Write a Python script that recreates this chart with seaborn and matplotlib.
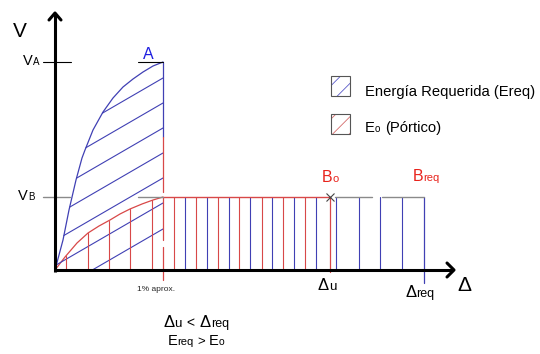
import numpy as np
import pandas as pd
import matplotlib
matplotlib.use("Agg")
import matplotlib.pyplot as plt
import matplotlib.patches as mpatches
import seaborn as sns

# diagram units: origin of the V-Delta axes, x to the right, y upward
v_a = 208
v_b = 73
x_1pct = 108
delta_u = 275
delta_req = 369

blue_curve_x = [0, 8, 14, 21, 27, 30, 38, 48, 58, 68, 78, 88, 98, 108]
blue_curve_y = [0, 30, 60, 90, 112, 120, 140, 158, 172, 183, 191, 198, 204, 208]
red_curve_x = [0, 10, 22, 33, 44, 55, 65, 75, 87, 98, 108]
red_curve_y = [0, 13, 27, 37, 44, 50, 56, 61, 66, 70, 73]

# diagonal hatch of the required energy (end height at x_1pct)
blue_hatch_end = [41, 67, 92, 117, 142, 167, 192]
blue_hatch_slope = 0.58
# vertical hatch under the frame curve
red_hatch_left = [11, 33, 54, 75, 97]
# vertical hatch in the plateau
red_plateau = [119, 141, 163, 184, 207, 228, 250]
blue_plateau = [130, 152, 174, 195, 217, 239, 261, 281, 304, 325, 347]

BLUE = "#4040b4"
RED = "#d84848"
LBL_RED = "#e8231c"
LBL_BLUE = "#1f1fe0"
GRAY = "#8a8a8a"

sns.set_style("white")
plt.rcParams["font.family"] = ["Liberation Sans", "DejaVu Sans"]
plt.rcParams["hatch.linewidth"] = 0.6

fig = plt.figure(figsize=(5.4, 3.54), dpi=100)
ax = fig.add_axes([0, 0, 1, 1])
ax.set_xlim(-55, 485)
ax.set_ylim(-84, 270)
ax.axis("off")

# curves
curves = pd.DataFrame({
    "x": blue_curve_x + red_curve_x,
    "y": blue_curve_y + red_curve_y,
    "curve": ["req"] * len(blue_curve_x) + ["o"] * len(red_curve_x),
})
sns.lineplot(data=curves, x="x", y="y", hue="curve", palette={"req": BLUE, "o": RED},
             sort=False, estimator=None, lw=0.9, legend=False, ax=ax)

# blue diagonal hatch, starting at the blue curve or the x axis
grid = np.linspace(0, x_1pct, 2000)
curve_on_grid = np.interp(grid, blue_curve_x, blue_curve_y)
for y_end in blue_hatch_end:
    line_y = y_end - blue_hatch_slope * (x_1pct - grid)
    ok = (line_y >= 0) & (line_y <= curve_on_grid)
    x0 = grid[np.argmax(ok)]
    ax.plot([x0, x_1pct], [y_end - blue_hatch_slope * (x_1pct - x0), y_end], color=BLUE, lw=0.8)

# red verticals under the frame curve
for x in red_hatch_left:
    ax.plot([x, x], [0, np.interp(x, red_curve_x, red_curve_y)], color=RED, lw=0.8)

# plateau verticals
for x in red_plateau:
    ax.plot([x, x], [0, v_b], color=RED, lw=0.8)
for x in blue_plateau:
    ax.plot([x, x], [0, v_b], color=BLUE, lw=0.8)
ax.plot([delta_u, delta_u], [-2, v_b], color=RED, lw=0.9)
ax.plot([delta_req, delta_req], [-13, v_b], color=BLUE, lw=0.9)

# 1% line
ax.plot([x_1pct, x_1pct], [133, v_a], color=BLUE, lw=0.9)
for y0, y1 in [(78, 133), (30, 73), (-10, 23)]:
    ax.plot([x_1pct, x_1pct], [y0, y1], color=RED, lw=0.9)

# plateau top
ax.plot([x_1pct, delta_u], [v_b, v_b], color=RED, lw=1.0)
ax.plot([delta_u + 5, 317], [v_b, v_b], color=GRAY, lw=1.0)
ax.plot([327, delta_req], [v_b, v_b], color=GRAY, lw=1.0)
ax.plot([delta_u], [v_b], marker="x", ms=6, mew=0.8, color="#444444")

# V level ticks
ax.plot([-12, 16], [v_a, v_a], color="black", lw=0.8)
ax.plot([83, x_1pct], [v_a, v_a], color="black", lw=0.8)
ax.plot([-12, 15], [v_b, v_b], color=GRAY, lw=1.0)
ax.plot([83, x_1pct], [v_b, v_b], color=GRAY, lw=1.0)

# axes with arrows
ax.plot([0, 0], [-2, 256], color="black", lw=2.2, solid_capstyle="butt")
ax.plot([-1, 398], [0, 0], color="black", lw=2.2, solid_capstyle="butt")
ax.plot([-6, 0, 6], [250, 257, 250], color="black", lw=2.2)
ax.plot([392, 399, 392], [7, 0, -7], color="black", lw=2.2)


def rich_text(x, y, pieces, color="black"):
    renderer = fig.canvas.get_renderer()
    dx = 0
    for s, size, gap in pieces:
        t = ax.annotate(s, (x, y), xytext=(dx, 0), textcoords="offset pixels",
                        fontsize=size, color=color, ha="left", va="baseline")
        dx += t.get_window_extent(renderer).width + gap


rich_text(-42, 233, [("V", 15, 0)])
rich_text(-32, 205, [("V", 10.5, 0), ("A", 7, 0)])
rich_text(-37, 70, [("V", 10.5, 0), ("B", 7, 0)])
rich_text(88, 211, [("A", 11.5, 0)], color=LBL_BLUE)
rich_text(267, 88, [("B", 11.5, 0), ("o", 8, 0)], color=LBL_RED)
rich_text(358, 89, [("B", 11.5, 0), ("req", 8, 0)], color=LBL_RED)
rich_text(263, -20, [("Δ", 12, 0), ("u", 9.5, 0)])
rich_text(350, -27, [("Δ", 12, 0), ("req", 9, 0)])
rich_text(402, -21, [("Δ", 15, 0)])
ax.text(82, -21, "1% aprox.", fontsize=6, ha="left", va="baseline")
rich_text(108, -57, [("Δ", 12, 0), ("u", 9.5, 5), ("<", 10, 5), ("Δ", 12, 0), ("req", 9, 0)])
rich_text(113, -75, [("E", 10.5, 0), ("req", 8, 3), (">", 9.5, 4), ("E", 10.5, 0), ("o", 7.5, 0)])

# legend boxes
for (y0, col) in [(174, "#5a5ac8"), (136, "#d46a6a")]:
    ax.add_patch(mpatches.Rectangle((276, y0), 19, 20, fill=False, hatch="//",
                                    edgecolor=col, lw=0))
    ax.add_patch(mpatches.Rectangle((276, y0), 19, 20, fill=False,
                                    edgecolor="#555555", lw=0.8))
rich_text(310, 174, [("Energía Requerida (Ereq)", 10.6, 0)])
rich_text(310, 138, [("E", 10.6, 0), ("o", 7, 5), ("(Pórtico)", 10.6, 0)])

fig.savefig("out.png", dpi=100)
